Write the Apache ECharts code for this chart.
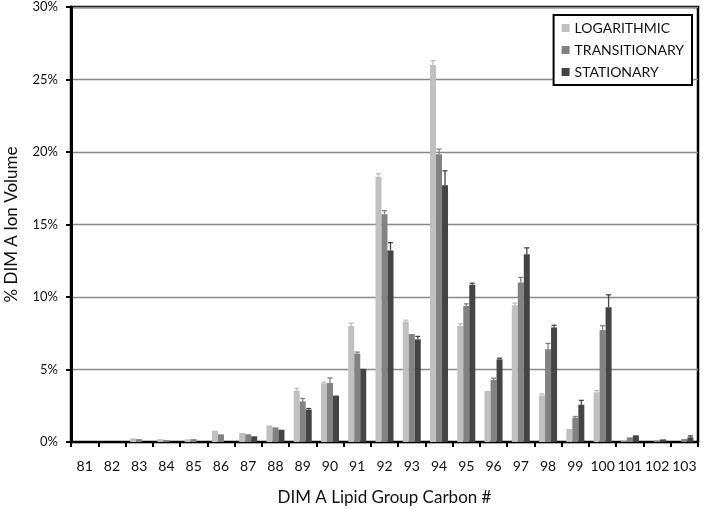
<!DOCTYPE html>
<html>
<head>
<meta charset="utf-8">
<script src="https://cdn.jsdelivr.net/npm/echarts@6/dist/echarts.min.js"></script>
<style>
  html, body { margin: 0; padding: 0; background: #fff; }
  #main { width: 703px; height: 509px; }
</style>
</head>
<body>
<div id="main"></div>
<script>
var carbons = ['81','82','83','84','85','86','87','88','89','90','91','92','93','94','95','96','97','98','99','100','101','102','103'];

// % ion volume
var logarithmic   = [0, 0, 0.25, 0.2, 0.18, 0.78, 0.62, 1.15, 3.55, 4.05, 8.0, 18.3, 8.3, 26.0, 8.0, 3.52, 9.43, 3.22, 0.9, 3.43, 0.05, 0, 0];
var transitionary = [0, 0, 0.2, 0.14, 0.2, 0.53, 0.53, 1.01, 2.8, 4.07, 6.1, 15.7, 7.45, 19.85, 9.38, 4.28, 11.0, 6.4, 1.68, 7.72, 0.32, 0.1, 0.2];
var stationary    = [0, 0, 0, 0, 0, 0, 0.39, 0.85, 2.23, 3.2, 5.05, 13.2, 7.08, 17.7, 10.85, 5.7, 12.94, 7.9, 2.57, 9.3, 0.46, 0.18, 0.32];

// error bars (upper only)
var logErr   = [0, 0, 0.03, 0.02, 0.02, 0.03, 0, 0.05, 0.15, 0.08, 0.2, 0.2, 0.1, 0.3, 0.15, 0.05, 0.15, 0.1, 0, 0.12, 0, 0, 0];
var transErr = [0, 0, 0, 0, 0, 0, 0, 0, 0.2, 0.35, 0.1, 0.25, 0.05, 0.35, 0.15, 0.12, 0.35, 0.4, 0.08, 0.3, 0.03, 0, 0];
var statErr  = [0, 0, 0, 0, 0, 0, 0, 0, 0.08, 0, 0, 0.55, 0.2, 1.0, 0.1, 0.08, 0.45, 0.15, 0.3, 0.85, 0.03, 0, 0.1];

var names  = ['LOGARITHMIC', 'TRANSITIONARY', 'STATIONARY'];
var colors = ['#c0c0c0', '#828282', '#444444'];
var values = [logarithmic, transitionary, stationary];
var errs   = [logErr, transErr, statErr];
var BAR_W = 6;

var myChart = echarts.init(document.getElementById('main'));

function errorSeries(k) {
  var data = [];
  for (var i = 0; i < carbons.length; i++) {
    data.push([i, values[k][i], values[k][i] + errs[k][i]]);
  }
  return {
    type: 'custom',
    name: names[k],
    z: 5,
    silent: true,
    renderItem: function (params, api) {
      var lo = api.coord([api.value(0), api.value(1)]);
      var hi = api.coord([api.value(0), api.value(2)]);
      if (lo[1] - hi[1] < 1) return;
      var x = lo[0] + (k - 1) * BAR_W;
      var st = { stroke: colors[k], lineWidth: 1.3 };
      return {
        type: 'group',
        children: [
          { type: 'line', shape: { x1: x, y1: lo[1], x2: x, y2: hi[1] }, style: st },
          { type: 'line', shape: { x1: x - 2.5, y1: hi[1], x2: x + 2.5, y2: hi[1] }, style: st }
        ]
      };
    },
    encode: { x: 0, y: [1, 2] },
    data: data
  };
}

var series = [];
for (var k = 0; k < 3; k++) {
  series.push({
    name: names[k],
    type: 'bar',
    data: values[k],
    barWidth: BAR_W,
    barGap: '0%',
    itemStyle: { color: colors[k] }
  });
}
for (var k = 0; k < 3; k++) series.push(errorSeries(k));

myChart.setOption({
  animation: false,
  textStyle: { fontFamily: 'Lato' },
  grid: {
    left: 71, right: 5, top: 7, bottom: 67,
    outerBoundsMode: 'none',
    containLabel: false,
    show: true, borderColor: '#000', borderWidth: 2.5
  },
  legend: {
    data: names,
    orient: 'vertical',
    right: 11, top: 15,
    backgroundColor: '#fff',
    borderColor: '#000',
    borderWidth: 2,
    borderRadius: 0,
    padding: [6, 8, 6, 8],
    itemGap: 8,
    itemWidth: 8, itemHeight: 8,
    icon: 'rect',
    textStyle: { fontSize: 14, color: '#111', fontFamily: 'Lato' }
  },
  xAxis: {
    type: 'category',
    data: carbons,
    name: 'DIM A Lipid Group Carbon #',
    nameLocation: 'middle',
    nameGap: 47,
    nameTextStyle: { fontSize: 17, color: '#111' },
    axisLine: { lineStyle: { color: '#000', width: 2 } },
    axisTick: { show: true, inside: false, length: 5, lineStyle: { color: '#000', width: 2 } },
    axisLabel: { interval: 0, fontSize: 14, color: '#111', margin: 17 }
  },
  yAxis: {
    type: 'value',
    min: 0, max: 30, interval: 5,
    name: '% DIM A Ion Volume',
    nameLocation: 'middle',
    nameGap: 51,
    nameTextStyle: { fontSize: 17, color: '#111' },
    axisLine: { show: true, lineStyle: { color: '#000', width: 3 } },
    axisTick: { show: true, length: 5, lineStyle: { color: '#000', width: 2 } },
    axisLabel: { formatter: '{value}%', fontSize: 13, color: '#111', margin: 13 },
    splitLine: { lineStyle: { color: '#8a8a8a', width: 1.3 } }
  },
  series: series
});
</script>
</body>
</html>
